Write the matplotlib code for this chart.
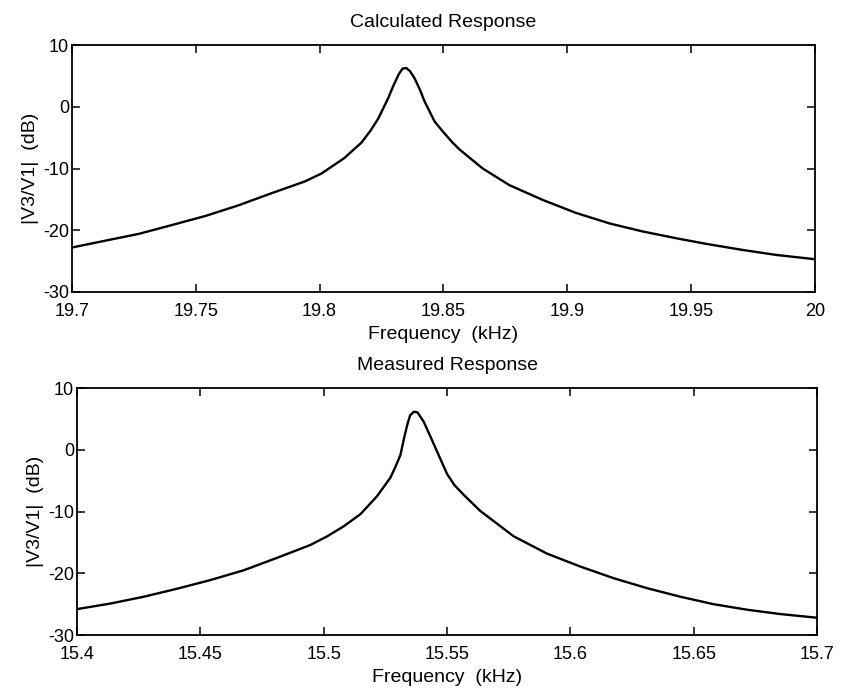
import matplotlib
matplotlib.use("Agg")
import matplotlib.pyplot as plt

plt.rcParams['font.family'] = ['Liberation Sans', 'DejaVu Sans']
plt.rcParams['axes.unicode_minus'] = False

# calculated response (kHz, dB)
calc_f = [19.700, 19.7134, 19.7269, 19.740, 19.7538, 19.767, 19.7806, 19.794,
          19.8008, 19.810, 19.8169, 19.8205, 19.8237, 19.8277, 19.8300, 19.8320,
          19.8335, 19.8350, 19.8365, 19.8384, 19.8405, 19.8425, 19.8465, 19.850,
          19.8535, 19.8565, 19.8659, 19.8767, 19.8902, 19.9036, 19.9171, 19.9305,
          19.944, 19.9574, 19.9709, 19.9843, 20.000]
calc_db = [-22.8, -21.7, -20.6, -19.2, -17.7, -16.0, -14.0, -12.1,
           -10.8, -8.3, -5.8, -3.9, -1.9, 1.4, 3.6, 5.3,
           6.2, 6.3, 5.8, 4.6, 2.8, 0.8, -2.4, -4.1,
           -5.7, -6.9, -10.0, -12.7, -15.1, -17.2, -18.9, -20.2,
           -21.3, -22.3, -23.2, -24.0, -24.7]

meas_f = [15.400, 15.4135, 15.427, 15.4405, 15.454, 15.4676, 15.481, 15.4946,
          15.5014, 15.508, 15.5149, 15.5216, 15.527, 15.5290, 15.5311, 15.5325,
          15.5338, 15.5350, 15.5365, 15.5380, 15.5405, 15.5430, 15.546, 15.548,
          15.550, 15.553, 15.5568, 15.5635, 15.577, 15.5905, 15.604, 15.6176,
          15.631, 15.6446, 15.658, 15.6716, 15.685, 15.700]
meas_db = [-25.8, -24.9, -23.8, -22.5, -21.1, -19.5, -17.5, -15.4,
           -14.0, -12.4, -10.4, -7.5, -4.5, -2.8, -0.8, 1.8,
           4.0, 5.6, 6.2, 6.1, 4.6, 2.4, -0.3, -2.1,
           -3.9, -5.7, -7.3, -9.9, -14.0, -16.8, -18.9, -20.8,
           -22.4, -23.8, -25.0, -25.9, -26.6, -27.2]

calc_ticks = [19.7, 19.75, 19.8, 19.85, 19.9, 19.95, 20]
calc_labels = ['19.7', '19.75', '19.8', '19.85', '19.9', '19.95', '20']
meas_ticks = [15.4, 15.45, 15.5, 15.55, 15.6, 15.65, 15.7]
meas_labels = ['15.4', '15.45', '15.5', '15.55', '15.6', '15.65', '15.7']
db_ticks = [-30, -20, -10, 0, 10]

fig = plt.figure(figsize=(8.45, 6.95), dpi=100)
ax1 = fig.add_axes([0.0852, 0.580, 0.879, 0.355])
ax2 = fig.add_axes([0.0911, 0.0863, 0.876, 0.355])

panels = [(ax1, calc_f, calc_db, calc_ticks, calc_labels, 'Calculated Response'),
          (ax2, meas_f, meas_db, meas_ticks, meas_labels, 'Measured Response')]

for ax, f, db, ticks, labels, title in panels:
    ax.plot(f, db, color='black', lw=1.7)
    ax.set_xlim(ticks[0], ticks[-1])
    ax.set_ylim(-30, 10)
    ax.set_xticks(ticks)
    ax.set_xticklabels(labels)
    ax.set_yticks(db_ticks)
    ax.tick_params(direction='in', top=True, right=True, length=6, width=1.1,
                   labelsize=13)
    ax.tick_params(axis='x', pad=8)
    ax.tick_params(axis='y', pad=2)
    for s in ax.spines.values():
        s.set_linewidth(1.3)
    ax.set_title(title, fontsize=14, pad=13)
    ax.set_xlabel('Frequency  (kHz)', fontsize=14, labelpad=4)
    ax.set_ylabel('|V3/V1|  (dB)', fontsize=14, labelpad=3)

fig.savefig('out.png', dpi=100)
